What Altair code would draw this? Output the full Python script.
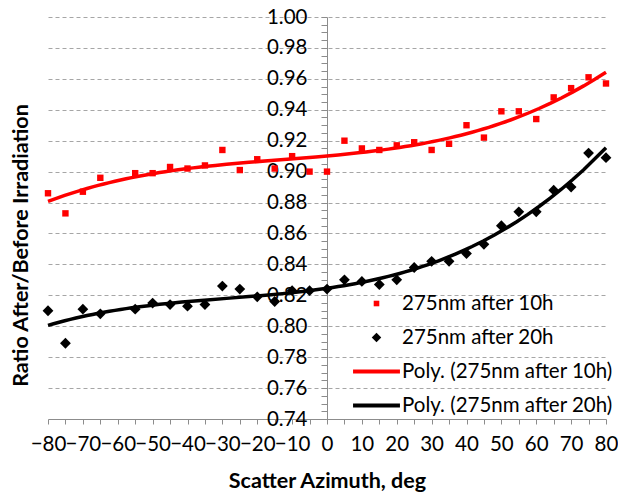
import altair as alt
import pandas as pd

# ---------------- data ----------------
angles = [-80, -75, -70, -65, -55, -50, -45, -40, -35, -30, -25, -20, -15, -10, -5, 0,
          5, 10, 15, 20, 25, 30, 35, 40, 45, 50, 55, 60, 65, 70, 75, 80]
ratio_10h = [0.886, 0.873, 0.887, 0.896, 0.899, 0.899, 0.903, 0.902, 0.904, 0.914, 0.901, 0.908,
             0.902, 0.910, 0.900, 0.900, 0.920, 0.915, 0.914, 0.917, 0.919, 0.914, 0.918, 0.930,
             0.922, 0.939, 0.939, 0.934, 0.948, 0.954, 0.961, 0.957]
ratio_20h = [0.810, 0.789, 0.811, 0.808, 0.811, 0.815, 0.814, 0.813, 0.814, 0.826, 0.824, 0.819,
             0.816, 0.823, 0.823, 0.824, 0.830, 0.829, 0.827, 0.830, 0.838, 0.842, 0.842, 0.847,
             0.853, 0.865, 0.874, 0.874, 0.888, 0.890, 0.912, 0.909]
series_names = ["275nm after 10h", "275nm after 20h"]
legend_names = series_names + ["Poly. (275nm after 10h)", "Poly. (275nm after 20h)"]
series_colors = ["#FF0000", "#000000", "#FF0000", "#000000"]
series_shapes = ["M-0.16,-0.16H0.16V0.16H-0.16Z",
                 "M0,-0.27L0.27,0L0,0.27L-0.27,0Z",
                 "M-1.34,-0.11H1.34V0.11H-1.34Z",
                 "M-1.34,-0.11H1.34V0.11H-1.34Z"]
x_ticks = list(range(-80, 81, 5))
y_grid = [round(0.76 + 0.02 * i, 2) for i in range(13)]
y_ticks = [round(0.74 + 0.005 * i, 3) for i in range(53)]

df = pd.DataFrame({
    "angle": angles * 2,
    "ratio": ratio_10h + ratio_20h,
    "series": [s for s in series_names for _ in angles],
})

FONT = "Lato"
GRAY = "#8C8C8C"
FS = 20.5
TFS = 21.5

color_scale = alt.Scale(domain=legend_names, range=series_colors)
shape_scale = alt.Scale(domain=legend_names, range=series_shapes)
x_scale = alt.Scale(domain=[-80, 80], nice=False, zero=False)
y_scale = alt.Scale(domain=[0.74, 1.0], nice=False, zero=False)

legend = alt.Legend(
    title=None, orient="none", legendX=311, legendY=269,
    symbolSize=1225, labelFont=FONT, labelFontSize=FS, labelColor="#000000",
    labelLimit=400, rowPadding=6, padding=0, labelOffset=8,
    symbolStrokeWidth=0, symbolOpacity=1,
)

x_axis = alt.Axis(
    values=x_ticks, labelExpr="datum.value % 10 === 0 ? datum.label : ''",
    labelOverlap=False, labelFlush=False, grid=False,
    tickSize=5, tickColor=GRAY, domainColor=GRAY, domainWidth=1,
    labelFont=FONT, labelFontSize=FS, labelColor="#000000", labelPadding=10,
    title="Scatter Azimuth, deg", titleFont=FONT, titleFontSize=TFS, titleFontWeight="bold",
    titleColor="#000000", titleY=68, titleBaseline="alphabetic",
)

grid_axis = alt.Axis(
    orient="left", values=y_grid, grid=True, gridDash=[4, 3], gridColor="#A6A6A6",
    gridWidth=1, labels=False, ticks=False, domain=False,
    title="Ratio After/Before Irradiation", titleFont=FONT, titleFontSize=TFS,
    titleFontWeight="bold", titleColor="#000000", titleX=-27, titleY=228,
    titleAngle=270, titleAlign="center", titleBaseline="middle",
)

center_axis = alt.Axis(
    orient="left", offset=-279, values=y_ticks,
    labelExpr="abs(round(datum.value * 1000)) % 20 === 0 ? format(datum.value, '.2f') : ''",
    labelOverlap=False, grid=False, tickSize=6, tickColor=GRAY, domainColor=GRAY,
    labelFont=FONT, labelFontSize=FS, labelColor="#000000", labelPadding=14, title=None,
)

points = alt.Chart(df).mark_point(filled=True, size=1600, opacity=1, strokeWidth=0).encode(
    x=alt.X("angle:Q", scale=x_scale, axis=x_axis),
    y=alt.Y("ratio:Q", scale=y_scale, axis=grid_axis),
    color=alt.Color("series:N", scale=color_scale, legend=legend),
    shape=alt.Shape("series:N", scale=shape_scale, legend=legend),
)

trend = alt.Chart(df).transform_regression(
    "angle", "ratio", method="poly", order=3, groupby=["series"], extent=[-80, 80]
).transform_calculate(
    fit="'Poly. (' + datum.series + ')'"
).mark_line(strokeWidth=3.5).encode(
    x=alt.X("angle:Q", scale=x_scale, axis=x_axis),
    y=alt.Y("ratio:Q", scale=y_scale, axis=center_axis),
    color=alt.Color("fit:N", scale=color_scale, legend=legend),
)

chart = alt.layer(points, trend).resolve_scale(y="independent").properties(
    width=558, height=402, autosize="none",
    padding={"left": 40, "top": 9, "right": 12, "bottom": 73},
    background="white",
).configure_view(stroke=None)

chart.save("out.html", embed_options={"renderer": "svg", "actions": False})
